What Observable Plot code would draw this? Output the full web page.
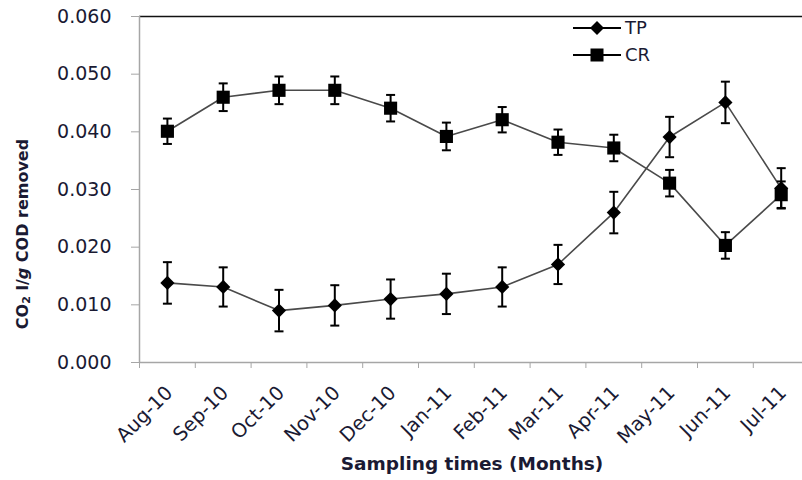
<!DOCTYPE html>
<html><head><meta charset="utf-8">
<script src="https://cdn.jsdelivr.net/npm/d3@7"></script>
<script src="https://cdn.jsdelivr.net/npm/@observablehq/plot@0.6"></script>
<style>
body{margin:0;background:#fff;}
#wrap{position:relative;width:802px;height:480px;overflow:hidden;font-family:"DejaVu Sans",sans-serif;color:#1a1a33;background:#fff;}
.ylab{position:absolute;left:23px;top:234px;transform:translate(-50%,-50%) rotate(-90deg);font-weight:bold;font-size:16px;white-space:nowrap;}
.ylab sub{font-size:11px;vertical-align:-2px;}
.xlab{position:absolute;left:472px;top:463px;transform:translate(-50%,-50%);font-weight:bold;font-size:18.5px;white-space:nowrap;}
.legend{position:absolute;left:573px;top:14px;}
.legend .row{display:flex;align-items:center;height:27px;}
.legend svg{display:block;}
.legend span{font-size:18px;margin-left:4px;}
</style>
</head><body>
<div id="wrap"></div>
<script>
const months = ["Aug-10","Sep-10","Oct-10","Nov-10","Dec-10","Jan-11","Feb-11","Mar-11","Apr-11","May-11","Jun-11","Jul-11"];
const tp    = [0.0138,0.0131,0.0090,0.0099,0.0110,0.0119,0.0131,0.0170,0.0260,0.0391,0.0451,0.0302];
const tpErr = [0.0036,0.0034,0.0036,0.0035,0.0034,0.0035,0.0034,0.0034,0.0036,0.0035,0.0036,0.0035];
const cr    = [0.0401,0.0460,0.0472,0.0472,0.0441,0.0392,0.0421,0.0382,0.0372,0.0311,0.0203,0.0291];
const crErr = [0.0022,0.0024,0.0024,0.0024,0.0023,0.0024,0.0022,0.0022,0.0023,0.0023,0.0023,0.0023];
const yTicks = [0,0.01,0.02,0.03,0.04,0.05,0.06];
const seriesNames = ["TP","CR"];

const rows = [];
months.forEach((m,i)=>{
  rows.push({series:"TP", i, month:m, v:tp[i], lo:tp[i]-tpErr[i], hi:tp[i]+tpErr[i]});
});
months.forEach((m,i)=>{
  rows.push({series:"CR", i, month:m, v:cr[i], lo:cr[i]-crErr[i], hi:cr[i]+crErr[i]});
});
const boundaries = months.map((m,i)=>i-0.5).concat([months.length-0.5]);
const cap = {draw(ctx){ctx.moveTo(-4.5,0);ctx.lineTo(4.5,0);}};
const symbolOf = {TP:"diamond2", CR:"square"};
const rOf = {TP:6.4, CR:7.4};

const marks = [
  Plot.ruleY([0.06], {stroke:"#111", strokeWidth:1.5}),
  Plot.axisY({ticks:yTicks, tickFormat:d3.format(".3f"), tickSize:8, tickPadding:20, fontSize:19, stroke:"#a6a6a6", fill:"#1a1a33", label:null}),
  Plot.axisX({ticks:boundaries, tickFormat:()=>"", tickSize:6, stroke:"#a6a6a6", label:null}),
  Plot.ruleX([-0.5], {y1:0, y2:0.06, stroke:"#a6a6a6", strokeWidth:1.5}),
  Plot.ruleY([0], {stroke:"#a6a6a6", strokeWidth:1.5}),
  Plot.text(months, {x:(d,i)=>i, frameAnchor:"bottom", rotate:-45, textAnchor:"end", lineAnchor:"middle", dx:2, dy:27, fontSize:19.5, fill:"#1a1a33"})
];
for (const s of seriesNames) {
  const d = rows.filter(r=>r.series===s);
  marks.push(
    Plot.line(d, {x:"i", y:"v", stroke:"#4a4a4a", strokeWidth:1.6}),
    Plot.ruleX(d, {x:"i", y1:"lo", y2:"hi", stroke:"#000", strokeWidth:2}),
    Plot.dot(d, {x:"i", y:"lo", symbol:cap, r:4, fill:"none", stroke:"#000", strokeWidth:2}),
    Plot.dot(d, {x:"i", y:"hi", symbol:cap, r:4, fill:"none", stroke:"#000", strokeWidth:2}),
    Plot.dot(d, {x:"i", y:"v", symbol:symbolOf[s], r:rOf[s], fill:"#000", stroke:"none"})
  );
}

const chart = Plot.plot({
  width:802, height:480,
  marginLeft:139, marginTop:16, marginBottom:118, marginRight:0,
  style:{fontFamily:"DejaVu Sans", color:"#1a1a33", background:"#fff", overflow:"hidden"},
  x:{type:"linear", domain:[-0.5, months.length-0.5], range:[139, 808.6], axis:null},
  y:{domain:[0,0.06], axis:null},
  marks
});

const wrap = document.getElementById("wrap");
wrap.appendChild(chart);

const yl = document.createElement("div");
yl.className = "ylab";
yl.innerHTML = "CO<sub>2</sub> l/<i>g</i> COD removed";
wrap.appendChild(yl);

const xl = document.createElement("div");
xl.className = "xlab";
xl.textContent = "Sampling times (Months)";
wrap.appendChild(xl);

const lg = document.createElement("div");
lg.className = "legend";
for (const s of seriesNames) {
  const row = document.createElement("div");
  row.className = "row";
  const sym = s==="TP"
    ? '<path d="M24,3 L31,10 L24,17 L17,10 Z" fill="#000"/>'
    : '<rect x="17.5" y="3.5" width="13" height="13" fill="#000"/>';
  row.innerHTML = '<svg width="48" height="20"><line x1="0" y1="10" x2="48" y2="10" stroke="#000" stroke-width="1.8"/>'+sym+'</svg><span>'+s+'</span>';
  lg.appendChild(row);
}
wrap.appendChild(lg);
</script>
</body></html>
